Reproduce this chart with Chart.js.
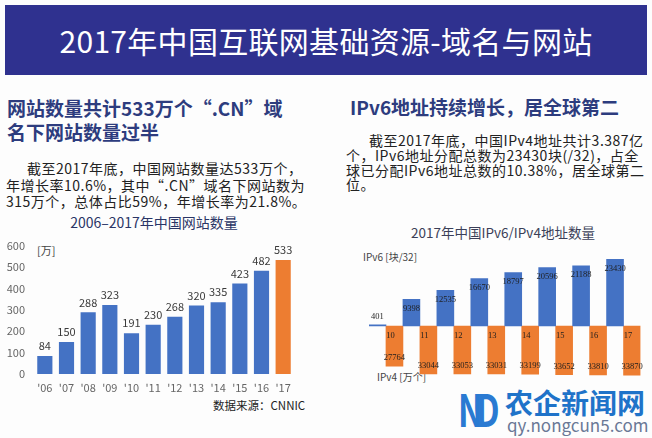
<!DOCTYPE html>
<html>
<head>
<meta charset="utf-8">
<script src="https://cdn.jsdelivr.net/npm/chart.js@4.4.1/dist/chart.umd.min.js"></script>
<style>
  html, body { margin:0; padding:0; }
  body { width:652px; height:438px; position:relative; overflow:hidden; background:#fdfdfd;
         font-family:"Noto Sans CJK SC","Noto Sans",sans-serif; }
  .abs { position:absolute; white-space:nowrap; }
  #banner { left:5px; top:5px; width:642px; height:70px; background:#2f318f; color:#fff;
            font-size:30px; line-height:70px; text-align:center; letter-spacing:0.3px; }
  .head { font-size:19px; font-weight:bold; color:#2d3c7e; line-height:24px; }
  .para { font-size:14px; color:#222; letter-spacing:0.5px; }
  .ctitle { font-size:14px; text-align:center; line-height:20px; }
  .unit { font-size:10.5px; color:#444; line-height:14px; }
  canvas { position:absolute; }
</style>
</head>
<body>
<div id="banner" class="abs">2017年中国互联网基础资源-域名与网站</div>

<div class="abs head" style="left:7px;top:96px;">网站数量共计533万个“.CN”域<br>名下网站数量过半</div>
<div class="abs para" style="left:6px;top:160px;line-height:16.5px;"><span style="padding-left:21px"></span>截至2017年底，中国网站数量达533万个，<br>年增长率10.6%，其中“.CN”域名下网站数为<br>315万个，总体占比59%，年增长率为21.8%。</div>

<div class="abs head" style="left:350px;top:95px;">IPv6地址持续增长，居全球第二</div>
<div class="abs para" style="left:346px;top:133px;line-height:14.8px;"><span style="padding-left:23px"></span>截至2017年底，中国IPv4地址共计3.387亿<br>个，IPv6地址分配总数为23430块(/32)，占全<br>球已分配IPv6地址总数的10.38%，居全球第二<br>位。</div>

<div class="abs ctitle" style="left:54px;top:212px;width:200px;color:#2a3566;">2006–2017年中国网站数量</div>
<div class="abs ctitle" style="left:403px;top:222px;width:200px;color:#3b3f58;font-size:13.5px;">2017年中国IPv6/IPv4地址数量</div>

<div class="abs unit" style="left:37px;top:243px;font-size:11px;">[万]</div>
<div class="abs unit" style="left:363px;top:250px;font-size:10px;">IPv6 [块/32]</div>
<div class="abs unit" style="left:377px;top:370px;font-size:10px;">IPv4 [万个]</div>
<div class="abs" style="left:213px;top:397px;font-size:11.5px;line-height:16px;color:#222;">数据来源：CNNIC</div>

<div class="abs" style="left:458px;top:384px;font-size:44px;line-height:48px;font-weight:bold;color:#2a7ad2;letter-spacing:-9px;transform:scaleX(0.75);transform-origin:left top;">ND</div>
<div class="abs" style="left:505px;top:386px;font-size:28px;line-height:32px;font-weight:bold;color:#1f73c9;">农企新闻网</div>
<div class="abs" style="left:507px;top:415px;font-size:17px;line-height:20px;color:#6a7896;">qy.nongcun5.com</div>

<canvas id="c1" width="310" height="170" style="left:0px;top:230px;width:310px;height:170px;"></canvas>
<canvas id="c2" width="292" height="145" style="left:360px;top:245px;width:292px;height:145px;"></canvas>

<script>
// ---- Data: website counts ----
const siteYears = ["'06","'07","'08","'09","'10","'11","'12","'13","'14","'15","'16","'17"];
const siteCounts = [84, 150, 288, 323, 191, 230, 268, 320, 335, 423, 482, 533];
const siteTicks = [0, 100, 200, 300, 400, 500, 600];

// ---- Data: IPv6 / IPv4 ----
const ipYears = ["10","11","12","13","14","15","16","17"];
const ipv6Blocks = [401, 9398, 12535, 16670, 18797, 20596, 21188, 23430];
const ipv4Wan = [27764, 33044, 33053, 33031, 33199, 33652, 33810, 33870];

const BLUE = '#4472C4', ORANGE = '#ED7D31';
const cjk = '"Noto Sans CJK SC","Noto Sans",sans-serif';

// Chart 1
const siteLabelPlugin = {
  id: 'siteLabels',
  afterDatasetsDraw(chart) {
    const ctx = chart.ctx;
    const meta = chart.getDatasetMeta(0);
    ctx.save();
    ctx.font = '11px ' + cjk;
    ctx.fillStyle = '#3a3a3a';
    ctx.textAlign = 'center';
    ctx.textBaseline = 'middle';
    meta.data.forEach((bar, i) => {
      ctx.fillText(String(siteCounts[i]), bar.x, bar.y - 10);
    });
    ctx.restore();
  }
};

new Chart(document.getElementById('c1'), {
  type: 'bar',
  data: {
    labels: siteYears,
    datasets: [{
      data: siteCounts,
      backgroundColor: siteCounts.map((v, i) => i === siteCounts.length - 1 ? ORANGE : BLUE),
      categoryPercentage: 0.7,
      barPercentage: 1
    }]
  },
  options: {
    responsive: false, animation: false, maintainAspectRatio: false,
    layout: { padding: { top: 9, right: 16, left: 0, bottom: 0 } },
    plugins: { legend: { display: false }, tooltip: { enabled: false } },
    scales: {
      x: {
        grid: { display: false, drawTicks: false }, border: { display: false },
        ticks: { font: { size: 11, family: cjk }, color: '#666', padding: 7 },
        afterFit(s) { s.height = 26; }
      },
      y: {
        min: siteTicks[0], max: siteTicks[siteTicks.length - 1],
        afterBuildTicks(s) { s.ticks = siteTicks.map(v => ({ value: v })); },
        grid: { display: false, drawTicks: false }, border: { display: false },
        ticks: { font: { size: 11, family: cjk }, color: '#666', padding: 9 },
        afterFit(s) { s.width = 34; }
      }
    }
  },
  plugins: [siteLabelPlugin]
});

// Chart 2
const ipLabelPlugin = {
  id: 'ipLabels',
  afterDatasetsDraw(chart) {
    const ctx = chart.ctx;
    ctx.save();
    ctx.font = '8.5px "Liberation Serif",serif';
    ctx.fillStyle = '#1e1e1e';
    ctx.textAlign = 'center';
    ctx.textBaseline = 'middle';
    chart.getDatasetMeta(0).data.forEach((bar, i) => {
      const h = bar.base - bar.y;
      const y = h < 12 ? bar.y - 8 : bar.y + 9;
      ctx.fillText(String(ipv6Blocks[i]), bar.x, y);
    });
    chart.getDatasetMeta(1).data.forEach((bar, i) => {
      ctx.fillText(String(ipv4Wan[i]), bar.x, bar.y - 8);
      ctx.fillText(ipYears[i], bar.x - 4, bar.base + 10);
    });
    ctx.restore();
  }
};

new Chart(document.getElementById('c2'), {
  type: 'bar',
  data: {
    labels: ipYears,
    datasets: [
      { data: ipv6Blocks, yAxisID: 'y6', backgroundColor: BLUE, categoryPercentage: 1, barPercentage: 1 },
      { data: ipv4Wan, yAxisID: 'y4', backgroundColor: ORANGE, categoryPercentage: 1, barPercentage: 1 }
    ]
  },
  options: {
    responsive: false, animation: false, maintainAspectRatio: false,
    layout: { padding: { top: 5, right: 11.5, left: 9, bottom: 10 } },
    plugins: { legend: { display: false }, tooltip: { enabled: false } },
    scales: {
      x: { display: false },
      y6: { display: false, position: 'left', min: -19000, max: 26750 },
      y4: { display: false, position: 'right', reverse: true, min: -52440, max: 37260 }
    }
  },
  plugins: [ipLabelPlugin]
});
</script>
</body>
</html>
